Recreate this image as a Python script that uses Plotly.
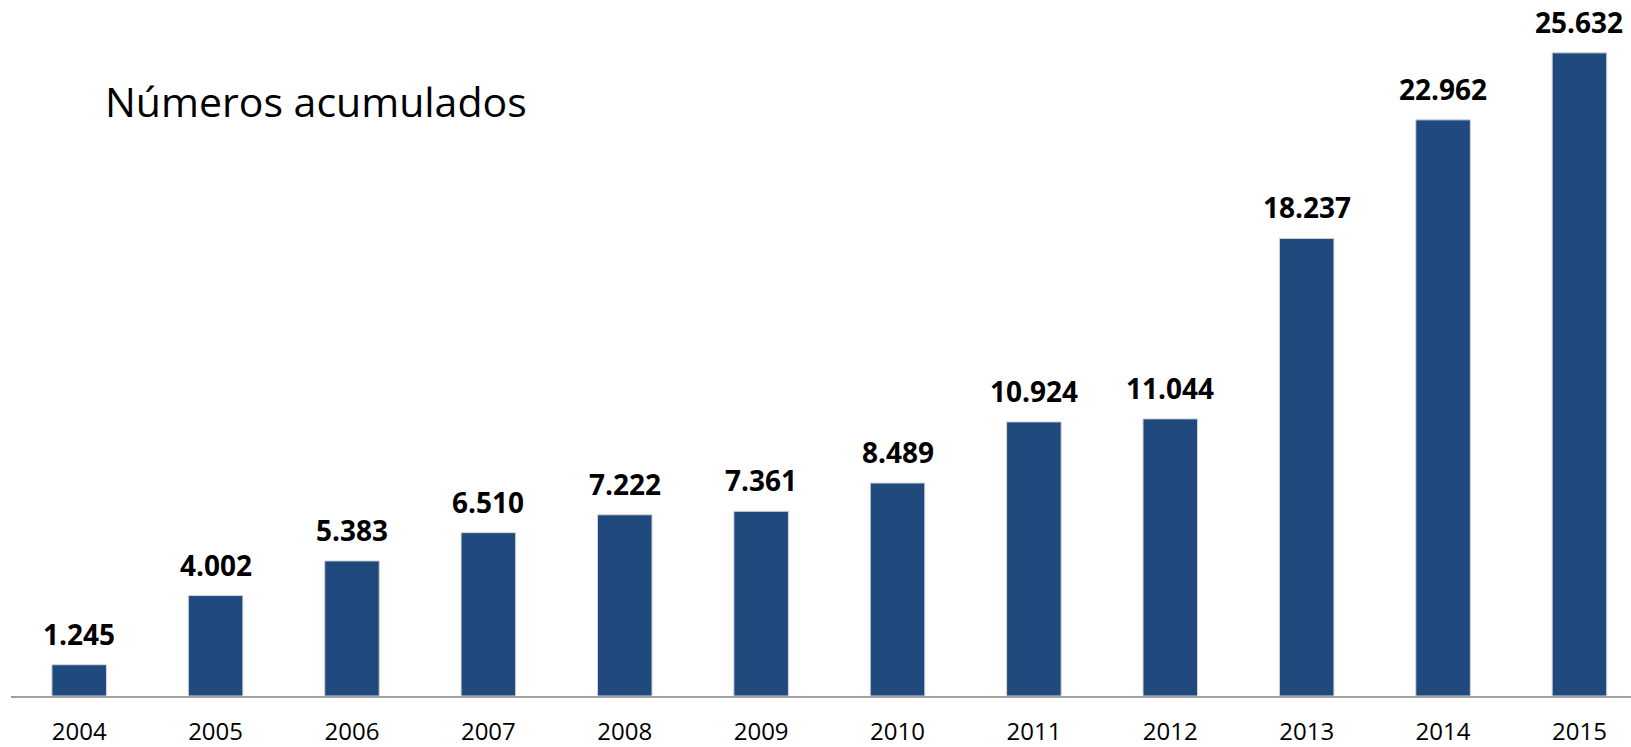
import plotly.graph_objects as go

years = ["2004", "2005", "2006", "2007", "2008", "2009", "2010", "2011", "2012", "2013", "2014", "2015"]
values = [1245, 4002, 5383, 6510, 7222, 7361, 8489, 10924, 11044, 18237, 22962, 25632]
title_text = "Números acumulados"

FONT = "Open Sans"
BAR_COLOR = "#204A7D"

fig = go.Figure()
fig.add_trace(go.Bar(
    x=years,
    y=values,
    marker=dict(color=BAR_COLOR, line=dict(color="#d4d4d4", width=1)),
    width=0.4,
    hoverinfo="skip",
))

for i, v in enumerate(values):
    fig.add_annotation(
        x=i, y=v, xref="x", yref="y",
        text="<b>" + f"{v:,}".replace(",", ".") + "</b>",
        showarrow=False, yanchor="bottom", yshift=10,
        font=dict(family=FONT, size=28, color="#000000"),
    )

fig.add_annotation(
    x=0.057, y=0.868, xref="paper", yref="paper",
    text=title_text, showarrow=False, xanchor="left", yanchor="middle",
    font=dict(family=FONT, size=41, color="#000000"),
)

fig.update_layout(
    width=1631, height=747,
    margin=dict(l=11, r=0, t=10, b=46),
    paper_bgcolor="white", plot_bgcolor="white",
    showlegend=False,
    separators=",.",
    font=dict(family=FONT),
)
fig.update_xaxes(
    type="category", range=[-0.5, 11.378],
    showline=True, linecolor="#a0a0a0", linewidth=1.5,
    showgrid=False, zeroline=False,
    ticks="outside", ticklen=13, tickcolor="rgba(0,0,0,0)",
    tickfont=dict(family=FONT, size=24, color="#000000"),
)
fig.update_yaxes(
    range=[0, 27340], visible=False, showgrid=False, zeroline=False,
)

fig.write_html(
    "out.html",
    config={"displayModeBar": False},
    post_script="document.body.style.margin='0';document.body.style.overflow='hidden';",
)
